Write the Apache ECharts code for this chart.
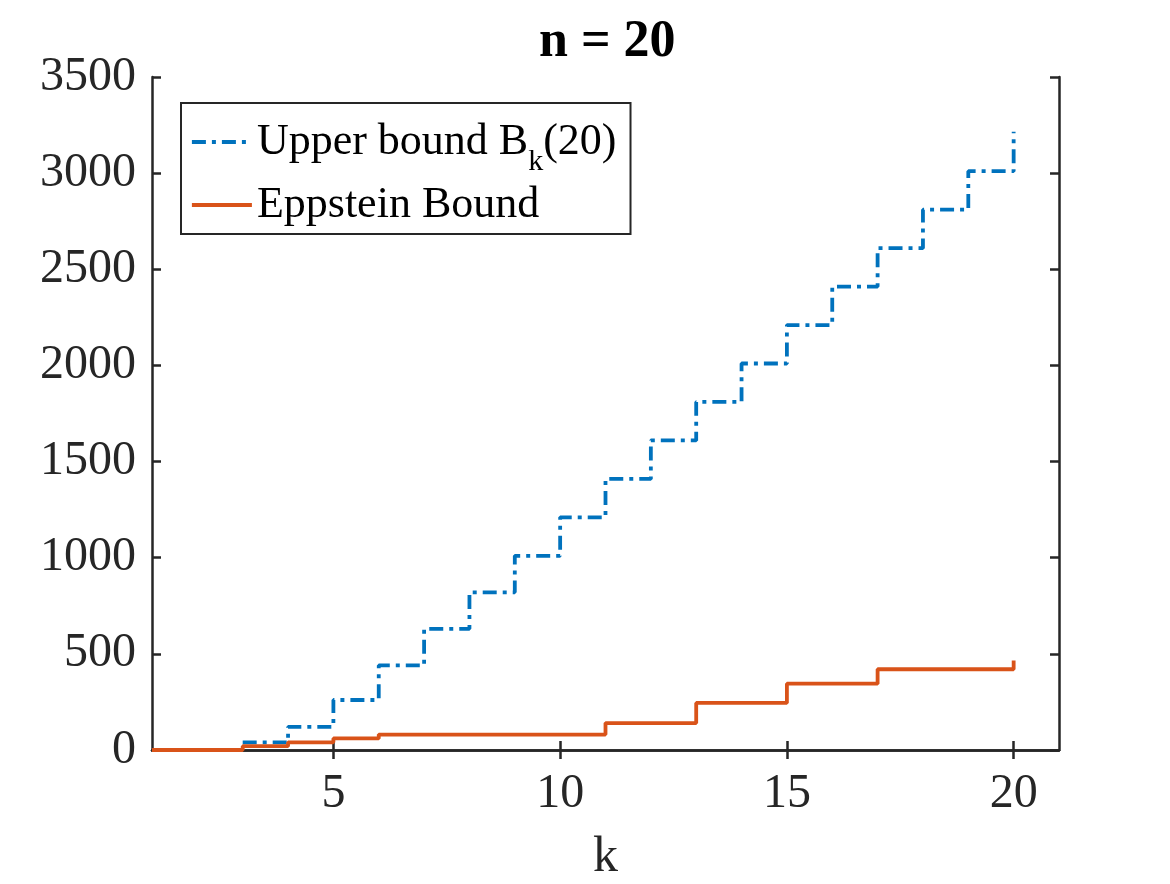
<!DOCTYPE html>
<html>
<head>
<meta charset="utf-8">
<script src="https://cdn.jsdelivr.net/npm/echarts@6/dist/echarts.min.js"></script>
<style>
  html, body { margin: 0; padding: 0; background: #fff; }
  #main { width: 1170px; height: 884px; }
</style>
</head>
<body>
<div id="main"></div>
<script>
// k values and the two bounds
var upperK = [3, 4, 5, 6, 7, 8, 9, 10, 11, 12, 13, 14, 15, 16, 17, 18, 19, 20];
var upperBound = [40, 120, 260, 440, 630, 820, 1010, 1210, 1410, 1610, 1810, 2010, 2210, 2410, 2610, 2810, 3010, 3215];
var eppsteinK = [1, 2, 3, 4, 5, 6, 7, 8, 9, 10, 11, 12, 13, 14, 15, 16, 17, 18, 19, 20];
var eppstein = [0, 0, 20, 40, 60, 80, 80, 80, 80, 80, 140, 140, 245, 245, 345, 345, 420, 420, 420, 465];
var xTicks = [5, 10, 15, 20];

var FONT = '"Liberation Serif", "Times New Roman", serif';
var AXIS = '#262626';

function pairs(xs, ys) {
  return xs.map(function (x, i) { return [x, ys[i]]; });
}

var chart = echarts.init(document.getElementById('main'));

var option = {
  animation: false,
  backgroundColor: '#fff',
  title: {
    text: 'n = 20',
    left: 534,
    top: 12,
    textStyle: { fontFamily: FONT, fontSize: 52, fontWeight: 'bold', color: '#000' }
  },
  grid: { left: 152, right: 111, top: 77, bottom: 134, containLabel: false, outerBoundsMode: 'none' },
  legend: {
    orient: 'vertical',
    left: 181,
    top: 103,
    padding: [4, 14, 7, 9],
    itemWidth: 60,
    itemHeight: 20,
    itemGap: 6,
    backgroundColor: '#fff',
    borderColor: AXIS,
    borderWidth: 2,
    itemStyle: { opacity: 0 },
    lineStyle: { width: 3.8 },
    textStyle: {
      fontFamily: FONT,
      fontSize: 44,
      color: '#000',
      rich: {
        a: { fontFamily: FONT, fontSize: 44, color: '#000', lineHeight: 44 },
        s: { fontFamily: FONT, fontSize: 30, color: '#000', lineHeight: 30, padding: [40, 0, 0, 0] }
      }
    },
    formatter: function (name) {
      if (name === 'Upper bound') return '{a|Upper bound B}{s|k}{a|(20)}';
      return '{a|' + name + '}';
    },
    data: ['Upper bound', 'Eppstein Bound']
  },
  xAxis: [{
    type: 'value',
    min: 1,
    max: 21,
    name: 'k',
    nameLocation: 'middle',
    nameGap: 83,
    nameTextStyle: { fontFamily: FONT, fontSize: 50, color: AXIS },
    axisLine: { lineStyle: { color: AXIS, width: 2.5 } },
    axisTick: { inside: true, length: 9, customValues: xTicks, lineStyle: { color: AXIS, width: 2.5 } },
    axisLabel: { customValues: xTicks, fontFamily: FONT, fontSize: 48, color: AXIS, margin: 20 },
    splitLine: { show: false }
  }, {
    type: 'value',
    position: 'top',
    min: 1,
    max: 21,
    axisLine: { show: true, lineStyle: { color: AXIS, width: 2.5 } },
    axisTick: { show: true, inside: true, length: 9, customValues: xTicks, lineStyle: { color: AXIS, width: 2.5 } },
    axisLabel: { show: false },
    splitLine: { show: false }
  }],
  yAxis: [{
    type: 'value',
    min: 0,
    max: 3500,
    interval: 500,
    axisLine: { show: true, lineStyle: { color: AXIS, width: 2.5 } },
    axisTick: { show: true, inside: true, length: 9, lineStyle: { color: AXIS, width: 2.5 } },
    axisLabel: {
      fontFamily: FONT, fontSize: 48, color: AXIS, margin: 16,
      formatter: function (v) { return String(v); }
    },
    splitLine: { show: false }
  }, {
    type: 'value',
    position: 'right',
    min: 0,
    max: 3500,
    interval: 500,
    axisLine: { show: true, lineStyle: { color: AXIS, width: 2.5 } },
    axisTick: { show: true, inside: true, length: 9, lineStyle: { color: AXIS, width: 2.5 } },
    axisLabel: { show: false },
    splitLine: { show: false }
  }],
  series: [{
    name: 'Upper bound',
    type: 'line',
    step: 'end',
    symbol: 'none',
    lineStyle: { color: '#0072BD', width: 3.8, type: [14, 6, 4, 6] },
    itemStyle: { color: '#0072BD' },
    data: pairs(upperK, upperBound)
  }, {
    name: 'Eppstein Bound',
    type: 'line',
    step: 'end',
    symbol: 'none',
    lineStyle: { color: '#D95319', width: 3.8 },
    itemStyle: { color: '#D95319' },
    data: pairs(eppsteinK, eppstein)
  }]
};

chart.setOption(option);
</script>
</body>
</html>
